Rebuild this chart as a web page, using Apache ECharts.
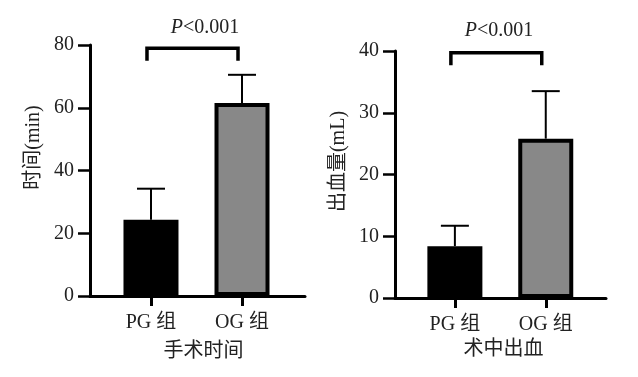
<!DOCTYPE html>
<html>
<head>
<meta charset="utf-8">
<script src="https://cdn.jsdelivr.net/npm/echarts@6/dist/echarts.min.js"></script>
<style>
  html, body { margin: 0; padding: 0; background: #fff; }
  #chart { width: 638px; height: 377px; }
</style>
</head>
<body>
<div id="chart"></div>
<script>
// 数据
const groups = ['PG 组', 'OG 组']
const timeMean = [24.3, 61.5]
const timeUpper = [34.2, 70.5]
const bloodMean = [8.4, 25.8]
const bloodUpper = [11.7, 33.5]
const timeTicks = [0, 20, 40, 60, 80]
const bloodTicks = [0, 10, 20, 30, 40]
const timeBracket = [79, 75]
const bloodBracket = [39.7, 37.7]
const pText = '<0.001'

const fontFamily = '"Liberation Serif", "Noto Sans CJK SC", serif'
const textColor = '#222'
const barColors = ['#000000', '#888888']

const chart = echarts.init(document.getElementById('chart'))

const makeXAxis = (gridIndex, min, max, name, shift, gap) => ({
  type: 'value',
  gridIndex,
  min,
  max,
  name,
  nameLocation: 'middle',
  nameGap: gap,
  nameTextStyle: { fontFamily, fontSize: 20, color: textColor, padding: [0, 0, 0, shift] },
  axisLine: { show: true, onZero: false, lineStyle: { color: '#000', width: 3 } },
  axisTick: { show: true, customValues: [0, 1], length: 10, lineStyle: { color: '#000', width: 3 } },
  axisLabel: {
    customValues: [0, 1],
    formatter: (v) => groups[Math.round(v)] || '',
    fontFamily, fontSize: 20, color: textColor, margin: 17
  },
  splitLine: { show: false }
})

const makeYAxis = (gridIndex, ticks, name, shift) => ({
  type: 'value',
  gridIndex,
  min: ticks[0],
  max: ticks[ticks.length - 1],
  interval: ticks[1] - ticks[0],
  name,
  nameLocation: 'middle',
  nameGap: 46,
  nameTextStyle: { fontFamily, fontSize: 20, color: textColor, padding: [0, 0, 0, shift] },
  axisLine: { show: true, onZero: false, lineStyle: { color: '#000', width: 3 } },
  axisTick: { show: true, length: 12, lineStyle: { color: '#000', width: 2.5 } },
  axisLabel: { fontFamily, fontSize: 20, color: textColor, margin: 16 },
  splitLine: { show: false }
})

const barSeries = (idx, means) => ({
  type: 'bar',
  xAxisIndex: idx,
  yAxisIndex: idx,
  barWidth: 55,
  data: means.map((v, i) => ({
    value: [i, v],
    itemStyle: { color: barColors[i], borderColor: '#000', borderWidth: 4 }
  })),
  z: 2
})

const errorSeries = (idx, means, uppers) => ({
  type: 'custom',
  xAxisIndex: idx,
  yAxisIndex: idx,
  data: means.map((v, i) => [i, v, uppers[i]]),
  renderItem: (params, api) => {
    const base = api.coord([api.value(0), api.value(1)])
    const top = api.coord([api.value(0), api.value(2)])
    const half = 14
    return {
      type: 'group',
      children: [
        { type: 'line', shape: { x1: top[0], y1: base[1], x2: top[0], y2: top[1] }, style: { stroke: '#000', lineWidth: 2 } },
        { type: 'line', shape: { x1: top[0] - half, y1: top[1], x2: top[0] + half, y2: top[1] }, style: { stroke: '#000', lineWidth: 2 } }
      ]
    }
  },
  z: 1
})

const bracketSeries = (idx, bracket) => ({
  type: 'custom',
  xAxisIndex: idx,
  yAxisIndex: idx,
  data: [[0, 1, bracket[0], bracket[1]]],
  renderItem: (params, api) => {
    const a = api.coord([api.value(0), api.value(3)])
    const b = api.coord([api.value(0), api.value(2)])
    const c = api.coord([api.value(1), api.value(2)])
    const d = api.coord([api.value(1), api.value(3)])
    const dx = -4
    return {
      type: 'polyline',
      shape: { points: [[a[0] + dx, a[1]], [b[0] + dx, b[1]], [c[0] + dx, c[1]], [d[0] + dx, d[1]]] },
      style: { stroke: '#000', lineWidth: 3.5, fill: 'none' }
    }
  },
  z: 3
})

const pTitle = (left, top) => ({
  text: '{i|P}{n|' + pText + '}',
  left,
  top,
  textAlign: 'center',
  textStyle: {
    fontWeight: 'normal',
    rich: {
      i: { fontFamily, fontSize: 20, fontStyle: 'italic', fontWeight: 'normal', color: textColor },
      n: { fontFamily, fontSize: 20, fontWeight: 'normal', color: textColor }
    }
  }
})

const option = {
  backgroundColor: '#fff',
  animation: false,
  title: [pTitle(200, 13), pTitle(494, 16)],
  grid: [
    { left: 90, top: 45, width: 215, height: 251 },
    { left: 395, top: 51, width: 211, height: 247 }
  ],
  xAxis: [
    makeXAxis(0, -0.67, 1.692, '手术时间', 12, 46),
    makeXAxis(1, -0.659, 1.663, '术中出血', 6, 42)
  ],
  yAxis: [
    makeYAxis(0, timeTicks, '时间(min)', 46),
    makeYAxis(1, bloodTicks, '出血量(mL)', 26)
  ],
  series: [
    barSeries(0, timeMean),
    errorSeries(0, timeMean, timeUpper),
    bracketSeries(0, timeBracket),
    barSeries(1, bloodMean),
    errorSeries(1, bloodMean, bloodUpper),
    bracketSeries(1, bloodBracket)
  ]
}

chart.setOption(option)
</script>
</body>
</html>
